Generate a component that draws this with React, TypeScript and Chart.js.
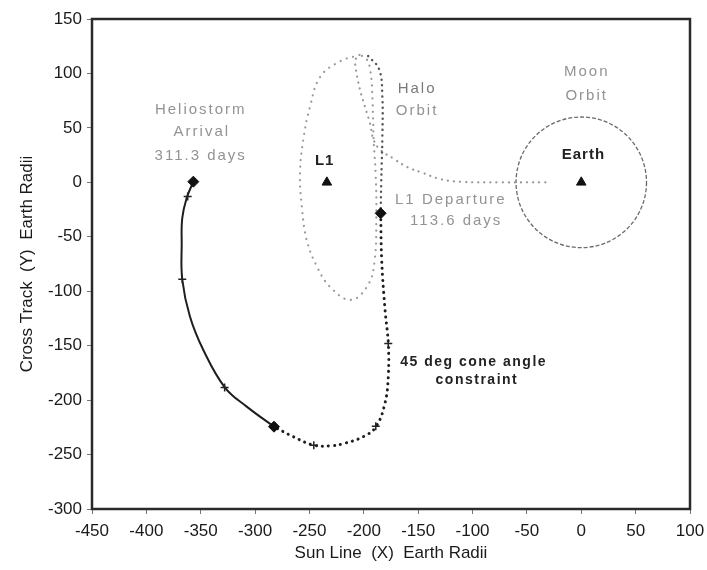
import { useEffect, useRef } from "react";
import { Chart, registerables } from "chart.js";

Chart.register(...registerables);

const FONT = "'Liberation Sans', Arial, sans-serif";

const xTicks = [-450, -400, -350, -300, -250, -200, -150, -100, -50, 0, 50, 100];
const yTicks = [-300, -250, -200, -150, -100, -50, 0, 50, 100, 150];

// Halo orbit around L1 (closed loop)
const haloX = [-204, -222, -240, -249.5, -255.7, -258.7, -257, -252.5, -243, -231, -212, -196, -190, -188.5, -189, -191, -192, -194, -198, -204];
const haloY = [117, 111, 97, 69.5, 39, 8.6, -22, -53, -77.5, -96, -108, -94, -71, -30, 5, 40, 75, 103, 114, 117];

// Transfer from Earth to the halo orbit
const transferX = [-33, -75, -111, -130, -145.6, -160, -173, -185, -191, -194.3, -199, -203.5, -208, -207];
const transferY = [0, 0, 0.5, 3, 8.6, 14, 22, 30, 39, 54, 69.5, 85, 109, 115];

// Leg from the top of the halo down to the L1 departure point
const exitX = [-196, -186, -183, -183, -184, -184.5];
const exitY = [116, 104, 80, 40, 0, -28.4];

// Departure trajectory (cone angle constraint)
const departX = [-184.5, -183.6, -180.5, -177.5, -177.5, -180.5, -188.8, -200.5, -219, -231, -245.8, -264.9, -282.6];
const departY = [-28.4, -71.3, -117, -148, -178.5, -202.6, -224.4, -233.6, -240, -242, -241.5, -233.6, -224.4];

// Solid leg to Heliostorm arrival
const cruiseX = [-282.6, -307.7, -327.7, -347.6, -360, -367, -367.5, -367, -363, -356.8];
const cruiseY = [-224.4, -206, -188.5, -154, -123, -89, -56, -33, -14.6, 0.6];

// Event markers
const diamondX = [-356.8, -282.6, -184.5];
const diamondY = [0.6, -224.4, -28.4];
const crossX = [-362, -367, -328, -246, -189, -177.5];
const crossY = [-13, -89, -188.5, -241.5, -224, -148];
const triangleX = [-234, 0];
const triangleY = [0, 0];

// Moon orbit (centre and radius, Earth radii)
const moonOrbitCenter = [0, 0];
const moonOrbitRadius = 60;

type Note = { text: string; x: number; y: number; kind: "gray" | "dark" | "darkBig" | "grayBig" };
const notes: Note[] = [
  { text: "Heliostorm", x: -350, y: 67, kind: "gray" },
  { text: "Arrival", x: -349, y: 46, kind: "gray" },
  { text: "311.3 days", x: -350, y: 24, kind: "gray" },
  { text: "L1", x: -236, y: 20, kind: "darkBig" },
  { text: "Halo", x: -151, y: 86, kind: "grayBig" },
  { text: "Orbit", x: -151, y: 66, kind: "gray" },
  { text: "Moon", x: 5, y: 101, kind: "gray" },
  { text: "Orbit", x: 5, y: 79, kind: "gray" },
  { text: "Earth", x: 2, y: 25, kind: "darkBig" },
  { text: "L1 Departure", x: -120, y: -16, kind: "gray" },
  { text: "113.6 days", x: -115, y: -35, kind: "gray" },
  { text: "45 deg cone angle", x: -99, y: -165, kind: "dark" },
  { text: "constraint", x: -96, y: -181.5, kind: "dark" },
];

const pts = (xs: number[], ys: number[]) => xs.map((x, i) => ({ x, y: ys[i] }));

const framePlugin = {
  id: "frame",
  beforeDatasetsDraw(chart: any) {
    const { ctx, scales } = chart;
    const sx = scales.x, sy = scales.y;
    const cx = sx.getPixelForValue(moonOrbitCenter[0]);
    const cy = sy.getPixelForValue(moonOrbitCenter[1]);
    const rx = sx.getPixelForValue(moonOrbitCenter[0] + moonOrbitRadius) - cx;
    const ry = cy - sy.getPixelForValue(moonOrbitCenter[1] + moonOrbitRadius);
    ctx.save();
    ctx.strokeStyle = "#6a6a6a";
    ctx.lineWidth = 1.3;
    ctx.setLineDash([4, 2]);
    ctx.beginPath();
    ctx.ellipse(cx, cy, rx, ry, 0, 0, Math.PI * 2);
    ctx.stroke();
    ctx.restore();
  },
  afterDatasetsDraw(chart: any) {
    const { ctx, chartArea, scales } = chart;
    ctx.save();
    ctx.textAlign = "center";
    ctx.textBaseline = "middle";
    for (const n of notes) {
      const px = scales.x.getPixelForValue(n.x);
      const py = scales.y.getPixelForValue(n.y);
      if (n.kind === "gray" || n.kind === "grayBig") {
        ctx.fillStyle = n.kind === "grayBig" ? "#7a7a7a" : "#939393";
        ctx.font = `15px ${FONT}`;
        (ctx as any).letterSpacing = "2px";
      } else if (n.kind === "darkBig") {
        ctx.fillStyle = "#222";
        ctx.font = `bold 15px ${FONT}`;
        (ctx as any).letterSpacing = "1px";
      } else {
        ctx.fillStyle = "#222";
        ctx.font = `bold 14px ${FONT}`;
        (ctx as any).letterSpacing = "1.5px";
      }
      ctx.fillText(n.text, px, py);
    }
    (ctx as any).letterSpacing = "0px";
    ctx.strokeStyle = "#2a2a2a";
    ctx.lineWidth = 2.5;
    ctx.strokeRect(chartArea.left, chartArea.top, chartArea.right - chartArea.left, chartArea.bottom - chartArea.top);
    ctx.restore();
  },
};

export default function App() {
  const ref = useRef<HTMLCanvasElement | null>(null);
  useEffect(() => {
    if (!ref.current) return;
    const dotted = (color: string, width: number, gap: number) => ({
      showLine: true,
      borderColor: color,
      borderWidth: width,
      borderDash: [0.1, gap],
      borderCapStyle: "round" as const,
      pointRadius: 0,
      tension: 0.4,
      fill: false,
    });
    const chart = new Chart(ref.current, {
      type: "scatter",
      data: {
        datasets: [
          {
            label: "Arrival / departure",
            data: pts(diamondX, diamondY),
            pointStyle: "rectRot",
            pointRadius: 5.5,
            backgroundColor: "#111",
            borderColor: "#111",
            showLine: false,
          },
          {
            label: "Ticks",
            data: pts(crossX, crossY),
            pointStyle: "cross",
            pointRadius: 4,
            borderWidth: 1.5,
            borderColor: "#222",
            showLine: false,
          },
          {
            label: "L1 / Earth",
            data: pts(triangleX, triangleY),
            pointStyle: "triangle",
            pointRadius: 5.5,
            backgroundColor: "#111",
            borderColor: "#111",
            showLine: false,
          },
          {
            label: "Cruise",
            data: pts(cruiseX, cruiseY),
            showLine: true,
            borderColor: "#1e1e1e",
            borderWidth: 2,
            pointRadius: 0,
            tension: 0.4,
          },
          { label: "Departure", data: pts(departX, departY), ...dotted("#1e1e1e", 3, 6) },
          { label: "Exit", data: pts(exitX, exitY), ...dotted("#555", 2.4, 5.5) },
          { label: "Transfer", data: pts(transferX, transferY), ...dotted("#959595", 2.2, 6) },
          { label: "Halo", data: pts(haloX, haloY), ...dotted("#9a9a9a", 2.2, 6.5) },
        ],
      },
      options: {
        animation: false,
        responsive: false,
        events: [],
        layout: { padding: { top: 19, right: 17, bottom: 0, left: 0 } },
        plugins: { legend: { display: false }, tooltip: { enabled: false } },
        scales: {
          x: {
            type: "linear",
            min: -450,
            max: 100,
            afterBuildTicks: (s: any) => {
              s.ticks = xTicks.map((v) => ({ value: v }));
            },
            afterFit: (s: any) => {
              s.height = 61;
              s.paddingLeft = 0;
              s.paddingRight = 0;
            },
            grid: { drawOnChartArea: false, drawTicks: true, tickLength: 5, color: "#777" },
            border: { display: false },
            ticks: { color: "#1a1a1a", font: { family: FONT, size: 17 }, padding: 7, maxRotation: 0, autoSkip: false },
            title: {
              display: true,
              text: "Sun Line  (X)  Earth Radii",
              color: "#1a1a1a",
              font: { family: FONT, size: 17 },
              padding: { top: 0, bottom: 6 },
            },
          },
          y: {
            type: "linear",
            min: -300,
            max: 150,
            afterBuildTicks: (s: any) => {
              s.ticks = yTicks.map((v) => ({ value: v }));
            },
            afterFit: (s: any) => {
              s.width = 92;
              s.paddingTop = 0;
              s.paddingBottom = 0;
            },
            grid: { drawOnChartArea: false, drawTicks: true, tickLength: 5, color: "#777" },
            border: { display: false },
            ticks: { color: "#1a1a1a", font: { family: FONT, size: 17 }, padding: 5, autoSkip: false },
            title: {
              display: true,
              text: "Cross Track  (Y)  Earth Radii",
              color: "#1a1a1a",
              font: { family: FONT, size: 17 },
              padding: { top: 17, bottom: 0 },
            },
          },
        },
      },
      plugins: [framePlugin],
    });
    return () => chart.destroy();
  }, []);
  return (
    <div style={{ position: "absolute", left: 0, top: 0, width: 707, height: 570, background: "#fff" }}>
      <canvas ref={ref} width={707} height={570} style={{ width: 707, height: 570, display: "block" }} />
    </div>
  );
}
